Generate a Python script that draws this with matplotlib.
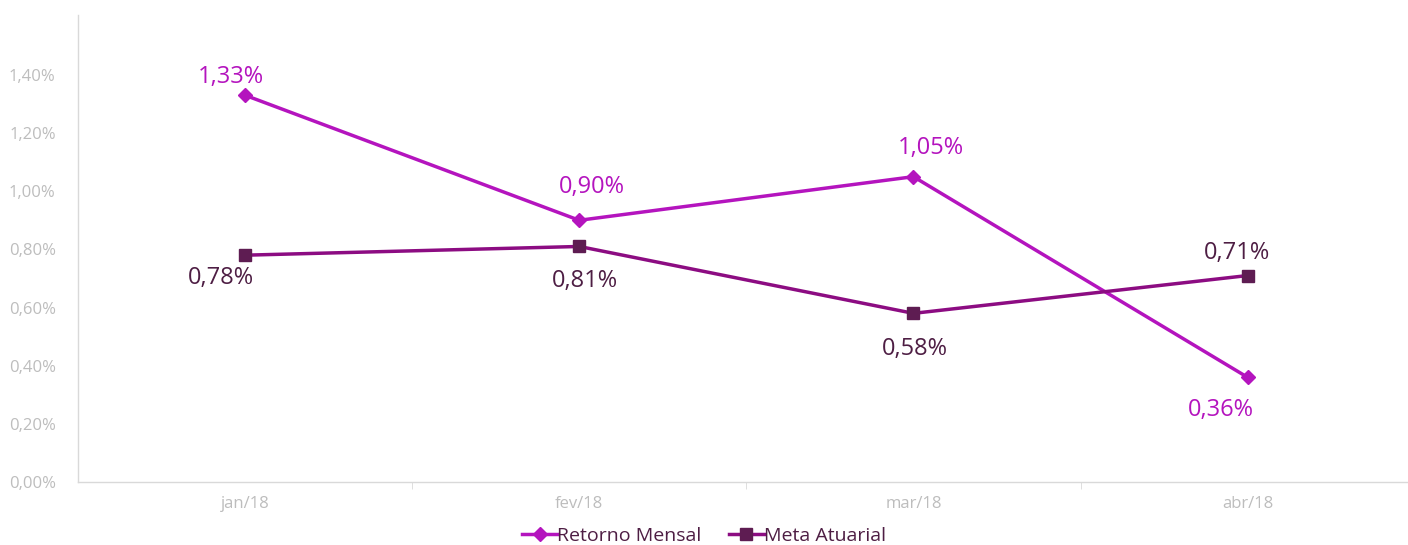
import matplotlib
matplotlib.use("Agg")
import matplotlib.pyplot as plt
from matplotlib.ticker import FuncFormatter

months = ['jan/18', 'fev/18', 'mar/18', 'abr/18']
retorno = [1.33, 0.90, 1.05, 0.36]
meta = [0.78, 0.81, 0.58, 0.71]
yticks = [0.0, 0.2, 0.4, 0.6, 0.8, 1.0, 1.2, 1.4]

plt.rcParams['font.family'] = ['Open Sans', 'DejaVu Sans']

# label offsets in pixels (dx, dy)
off_ret = [(-14, 18), (13, 33), (17, 29), (-27, -33)]
off_meta = [(-24, -23), (6, -35), (1, -36), (-11, 23)]

c_ret = '#B414BE'
c_meta_line = '#8C0C82'
c_meta_mark = '#5E1C52'
c_meta_txt = '#4E1E44'
grey = '#BDBDBD'

fig = plt.figure(figsize=(14.08, 5.45), dpi=100)
ax = fig.add_axes([78 / 1408, 63 / 545, 1330 / 1408, 467 / 545])

x = list(range(len(months)))
ax.plot(x, retorno, color=c_ret, lw=2.5, marker='D', ms=7,
        mfc=c_ret, mec=c_ret, label='Retorno Mensal', zorder=3)
ax.plot(x, meta, color=c_meta_line, lw=2.5, marker='s', ms=8,
        mfc=c_meta_mark, mec=c_meta_mark, label='Meta Atuarial', zorder=3)

for i, v in enumerate(retorno):
    ax.annotate(f'{v:.2f}%'.replace('.', ','), (i, v), xytext=off_ret[i],
                textcoords='offset pixels', ha='center', va='center',
                fontsize=17, color=c_ret)
for i, v in enumerate(meta):
    ax.annotate(f'{v:.2f}%'.replace('.', ','), (i, v), xytext=off_meta[i],
                textcoords='offset pixels', ha='center', va='center',
                fontsize=17, color=c_meta_txt)

ax.set_xlim(-0.5, 3.48)
ax.set_ylim(0, 1.606)
ax.set_xticks(x)
ax.set_xticklabels(months)
ax.set_xticks([0.5, 1.5, 2.5], minor=True)
ax.set_yticks(yticks)
ax.yaxis.set_major_formatter(FuncFormatter(lambda v, p: f'{v:.2f}%'.replace('.', ',')))

ax.tick_params(axis='x', which='major', length=0, pad=10, labelsize=12, labelcolor=grey)
ax.tick_params(axis='x', which='minor', length=5, color='#D9D9D9', direction='out')
ax.tick_params(axis='y', length=0, pad=16, labelsize=12, labelcolor=grey)

for s in ['top', 'right']:
    ax.spines[s].set_visible(False)
for s in ['left', 'bottom']:
    ax.spines[s].set_color('#D9D9D9')
    ax.spines[s].set_linewidth(1)

leg = fig.legend(loc='center', bbox_to_anchor=(0.5, 9 / 545), ncol=2, frameon=False,
                 fontsize=14, handlelength=1.8, handletextpad=0.0, columnspacing=1.4)
for t in leg.get_texts():
    t.set_color(c_meta_txt)

fig.savefig('out.png', dpi=100)
